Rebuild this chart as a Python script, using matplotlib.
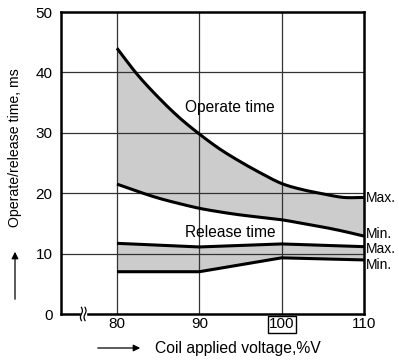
import matplotlib
matplotlib.use("Agg")
import matplotlib.pyplot as plt
import matplotlib.patches as mpatches
import numpy as np

plt.rcParams['font.family'] = ['Liberation Sans', 'DejaVu Sans']

# Operate time band (read values)
op_x = [80, 82.5, 85, 87.5, 90, 92.5, 95, 97.5, 100, 102.5, 105, 107.5, 110]
op_max = [44.0, 39.6, 35.9, 32.6, 29.8, 27.3, 25.2, 23.3, 21.6, 20.6, 19.9, 19.3, 19.3]
op_min = [21.5, 20.3, 19.2, 18.3, 17.5, 16.9, 16.4, 16.0, 15.6, 15.0, 14.4, 13.7, 12.9]

# Release time band
rel_x = [80, 90, 100, 110]
rel_max = [11.7, 11.1, 11.6, 11.15]
rel_min = [7.0, 7.0, 9.3, 8.95]

xticks = [80, 90, 100, 110]
yticks = [0, 10, 20, 30, 40, 50]


def smooth(xs, ys, n=12):
    """Catmull-Rom rendering through the read points."""
    xs = np.asarray(xs, float)
    ys = np.asarray(ys, float)
    px = np.concatenate([[2 * xs[0] - xs[1]], xs, [2 * xs[-1] - xs[-2]]])
    py = np.concatenate([[2 * ys[0] - ys[1]], ys, [2 * ys[-1] - ys[-2]]])
    ox, oy = [], []
    for i in range(1, len(px) - 2):
        t = np.linspace(0, 1, n, endpoint=False)
        for p, o in ((px, ox), (py, oy)):
            p0, p1, p2, p3 = p[i - 1], p[i], p[i + 1], p[i + 2]
            o.extend(0.5 * (2 * p1 + (-p0 + p2) * t + (2 * p0 - 5 * p1 + 4 * p2 - p3) * t ** 2
                            + (-p0 + 3 * p1 - 3 * p2 + p3) * t ** 3))
    ox.append(xs[-1])
    oy.append(ys[-1])
    return np.array(ox), np.array(oy)


fig = plt.figure(figsize=(3.99, 3.61), dpi=100)
ax = fig.add_axes([61/399, 47/361, 303/399, 302/361])

ax.set_xlim(73.2, 110)
ax.set_ylim(0, 50)

grid_c = '#333333'
for x in [80, 90, 100]:
    ax.axvline(x, color=grid_c, lw=0.9, zorder=1)
for y in [10, 20, 30, 40]:
    ax.axhline(y, color=grid_c, lw=0.9, zorder=1)

sx, smax = smooth(op_x, op_max)
_, smin = smooth(op_x, op_min)
ax.fill_between(sx, smin, smax, color='#cccccc', lw=0, zorder=0.5)
ax.fill_between(rel_x, rel_min, rel_max, color='#cccccc', lw=0, zorder=0.5)

for xs, ys in [(sx, smax), (sx, smin), (rel_x, rel_max), (rel_x, rel_min)]:
    ax.plot(xs, ys, color='black', lw=2.2, solid_capstyle='butt', zorder=3)

for s in ax.spines.values():
    s.set_linewidth(1.8)
    s.set_color('black')

ax.set_xticks(xticks)
ax.set_yticks(yticks)
ax.tick_params(length=0, labelsize=11)
ax.tick_params(axis='y', pad=6)
ax.tick_params(axis='x', pad=2.5)
for lbl in ax.get_xticklabels():
    if lbl.get_text() == '100':
        lbl.set_bbox(dict(boxstyle='square,pad=0.08', fc='white', ec='black', lw=1.0))

ax.text(93.7, 34.2, 'Operate time', fontsize=11.2, ha='center', va='center', zorder=4)
ax.text(93.8, 13.5, 'Release time', fontsize=11.2, ha='center', va='center', zorder=4)

for y, t in [(19.2, 'Max.'), (13.2, 'Min.'), (10.7, 'Max.'), (8.1, 'Min.')]:
    ax.text(110.25, y, t, fontsize=10, ha='left', va='center', clip_on=False)

# axis break mark on bottom spine
bx = 75.9
ax.add_patch(plt.Rectangle((bx - 0.3, -0.6), 0.6, 1.2, color='white', clip_on=False, zorder=5))
t = np.linspace(-1, 1, 30)
for dx in (-0.22, 0.22):
    ax.plot(bx + dx + 0.12 * np.sin(t * np.pi), t * 1.1, color='black', lw=0.9, clip_on=False, zorder=6)

# axis labels with arrows
fig.text(15/399, 1 - 148/361, 'Operate/release time, ms', rotation=90, fontsize=10.2, ha='center', va='center')
fig.add_artist(mpatches.FancyArrowPatch((15/399, 1 - 302/361), (15/399, 1 - 249/361),
               transform=fig.transFigure, arrowstyle='-|>,head_length=4,head_width=2', lw=0.9, color='black'))
fig.text(155/399, 1 - 348/361, 'Coil applied voltage,%V', fontsize=11.3, ha='left', va='center')
fig.add_artist(mpatches.FancyArrowPatch((95/399, 1 - 348/361), (143/399, 1 - 348/361),
               transform=fig.transFigure, arrowstyle='-|>,head_length=4,head_width=2', lw=0.9, color='black'))

fig.savefig('out.png', dpi=100)
